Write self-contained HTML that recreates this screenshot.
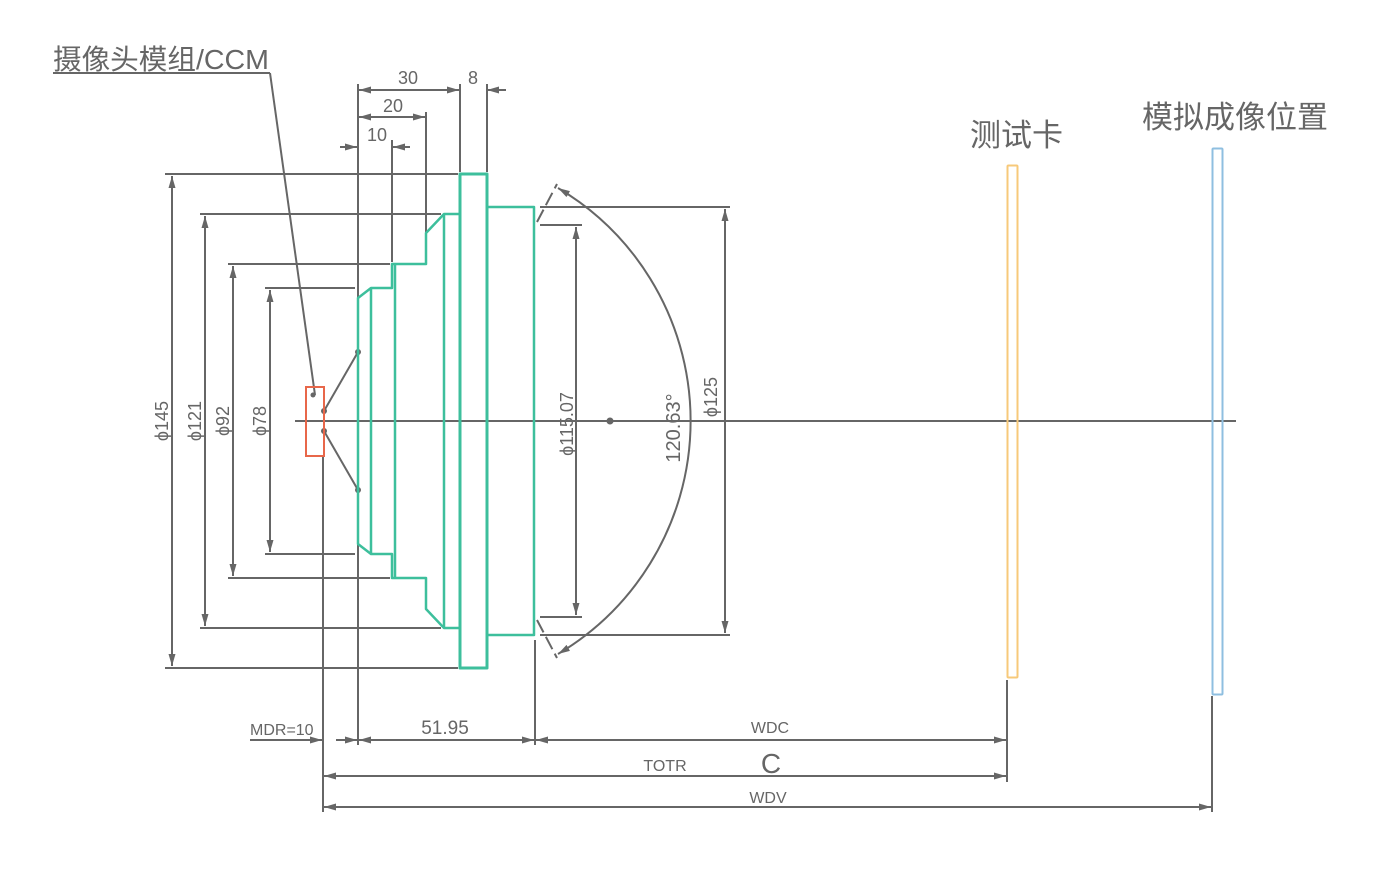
<!DOCTYPE html>
<html><head><meta charset="utf-8"><style>
html,body{margin:0;padding:0;background:#fff;}
svg{display:block;font-family:"Liberation Sans","Noto Sans CJK SC",sans-serif;}
</style></head><body>
<svg width="1385" height="874" viewBox="0 0 1385 874" xmlns="http://www.w3.org/2000/svg">
<defs>
<marker id="a" viewBox="0 0 12 7" refX="12" refY="3.5" markerWidth="12" markerHeight="7" orient="auto-start-reverse" markerUnits="userSpaceOnUse"><path d="M0,0L12,3.5L0,7z" fill="#666"/></marker>
</defs>
<g stroke="#666" stroke-width="2" fill="none">
<line x1="295" y1="421" x2="1236" y2="421"/>
<line x1="165" y1="174" x2="458" y2="174"/>
<line x1="165" y1="668" x2="458" y2="668"/>
<line x1="200" y1="214" x2="441" y2="214"/>
<line x1="200" y1="628" x2="441" y2="628"/>
<line x1="228" y1="264" x2="390" y2="264"/>
<line x1="228" y1="578" x2="390" y2="578"/>
<line x1="265" y1="288" x2="355" y2="288"/>
<line x1="265" y1="554" x2="355" y2="554"/>
<line x1="172" y1="176" x2="172" y2="666" marker-start="url(#a)" marker-end="url(#a)"/>
<line x1="205" y1="216" x2="205" y2="626" marker-start="url(#a)" marker-end="url(#a)"/>
<line x1="233" y1="266" x2="233" y2="576" marker-start="url(#a)" marker-end="url(#a)"/>
<line x1="270" y1="290" x2="270" y2="552" marker-start="url(#a)" marker-end="url(#a)"/>
<line x1="358" y1="84" x2="358" y2="745"/>
<line x1="392" y1="140" x2="392" y2="262"/>
<line x1="426" y1="112" x2="426" y2="232"/>
<line x1="460" y1="84" x2="460" y2="172"/>
<line x1="487" y1="84" x2="487" y2="172"/>
<line x1="359" y1="90" x2="459" y2="90" marker-start="url(#a)" marker-end="url(#a)"/>
<line x1="487" y1="90" x2="506" y2="90"/>
<line x1="487" y1="90" x2="500" y2="90" marker-start="url(#a)"/>
<line x1="359" y1="117" x2="425" y2="117" marker-start="url(#a)" marker-end="url(#a)"/>
<line x1="340" y1="147" x2="357" y2="147" marker-end="url(#a)"/>
<line x1="392" y1="147" x2="410" y2="147"/>
<line x1="393" y1="147" x2="408" y2="147" marker-start="url(#a)"/>
<line x1="540" y1="207" x2="730" y2="207"/>
<line x1="540" y1="635" x2="730" y2="635"/>
<line x1="725" y1="209" x2="725" y2="633" marker-start="url(#a)" marker-end="url(#a)"/>
<line x1="540" y1="225" x2="582" y2="225"/>
<line x1="540" y1="617" x2="582" y2="617"/>
<line x1="576" y1="227" x2="576" y2="615" marker-start="url(#a)" marker-end="url(#a)"/>
<path d="M558,188 A271,271 0 0 1 558,654" marker-start="url(#a)" marker-end="url(#a)"/>
<line x1="537" y1="222" x2="557" y2="184" stroke-dasharray="14,5"/>
<line x1="537" y1="620" x2="557" y2="658" stroke-dasharray="14,5"/>
<line x1="324" y1="411" x2="358" y2="352"/>
<line x1="324" y1="431" x2="358" y2="490"/>
<line x1="53" y1="73" x2="270" y2="73"/>
<line x1="270" y1="73" x2="315" y2="395"/>
<line x1="323" y1="456" x2="323" y2="812"/>
<line x1="535" y1="640" x2="535" y2="745"/>
<line x1="1007" y1="680" x2="1007" y2="782"/>
<line x1="1212" y1="696" x2="1212" y2="812"/>
<line x1="250" y1="740" x2="322" y2="740" marker-end="url(#a)"/>
<line x1="336" y1="740" x2="357" y2="740" marker-end="url(#a)"/>
<line x1="359" y1="740" x2="534" y2="740" marker-start="url(#a)" marker-end="url(#a)"/>
<line x1="536" y1="740" x2="1006" y2="740" marker-start="url(#a)" marker-end="url(#a)"/>
<line x1="324" y1="776" x2="1006" y2="776" marker-start="url(#a)" marker-end="url(#a)"/>
<line x1="324" y1="807" x2="1211" y2="807" marker-start="url(#a)" marker-end="url(#a)"/>
</g>
<g fill="#666">
<circle cx="324" cy="411" r="3"/><circle cx="324" cy="431" r="3"/>
<circle cx="358" cy="352" r="3"/><circle cx="358" cy="490" r="3"/>
<circle cx="313" cy="395" r="2.5"/><circle cx="610" cy="421" r="3.5"/>
</g>
<g stroke="#3dbf9c" stroke-width="2.5" fill="none" stroke-linejoin="round">
<path d="M358,298 L371,288 L392,288 L392,264 L426,264 L426,233 L444,214 L460,214 L460,174 L487,174 L487,207 L534,207 L534,635 L487,635 L487,668 L460,668 L460,628 L444,628 L426,609 L426,578 L392,578 L392,554 L371,554 L358,544 Z"/>
<line x1="371" y1="288" x2="371" y2="554"/>
<line x1="395" y1="264" x2="395" y2="578"/>
<line x1="444" y1="214" x2="444" y2="628"/>
<rect x="460" y="174" width="27" height="494" stroke-width="3"/>
</g>
<rect x="306" y="387" width="18" height="69" fill="none" stroke="#e8674a" stroke-width="2"/>
<rect x="1007.5" y="165.5" width="10" height="512" rx="1" fill="none" stroke="#f7c97a" stroke-width="2"/>
<rect x="1212.5" y="148.5" width="10" height="546" rx="1" fill="none" stroke="#8fbfe0" stroke-width="2"/>
<g fill="#666" font-size="18">
<text x="53" y="69" font-size="28" textLength="216" lengthAdjust="spacingAndGlyphs">摄像头模组/CCM</text>
<text x="408" y="84" text-anchor="middle">30</text>
<text x="473" y="84" text-anchor="middle">8</text>
<text x="393" y="112" text-anchor="middle">20</text>
<text x="377" y="141" text-anchor="middle">10</text>
<text transform="translate(168,421) rotate(-90)" text-anchor="middle">ϕ145</text>
<text transform="translate(201,421) rotate(-90)" text-anchor="middle">ϕ121</text>
<text transform="translate(229,421) rotate(-90)" text-anchor="middle">ϕ92</text>
<text transform="translate(266,421) rotate(-90)" text-anchor="middle">ϕ78</text>
<text transform="translate(573,424) rotate(-90)" text-anchor="middle">ϕ115.07</text>
<text transform="translate(680,428) rotate(-90)" text-anchor="middle" font-size="20">120.63°</text>
<text transform="translate(717,397) rotate(-90)" text-anchor="middle">ϕ125</text>
<text x="250" y="735" font-size="16">MDR=10</text>
<text x="445" y="734" text-anchor="middle" font-size="19">51.95</text>
<text x="770" y="733" text-anchor="middle" font-size="16">WDC</text>
<text x="665" y="771" text-anchor="middle" font-size="16">TOTR</text>
<text x="771" y="773" text-anchor="middle" font-size="28">C</text>
<text x="768" y="803" text-anchor="middle" font-size="16">WDV</text>
<text x="970" y="146" font-size="31">测试卡</text>
<text x="1142" y="128" font-size="31">模拟成像位置</text>
</g>
</svg>
</body></html>
